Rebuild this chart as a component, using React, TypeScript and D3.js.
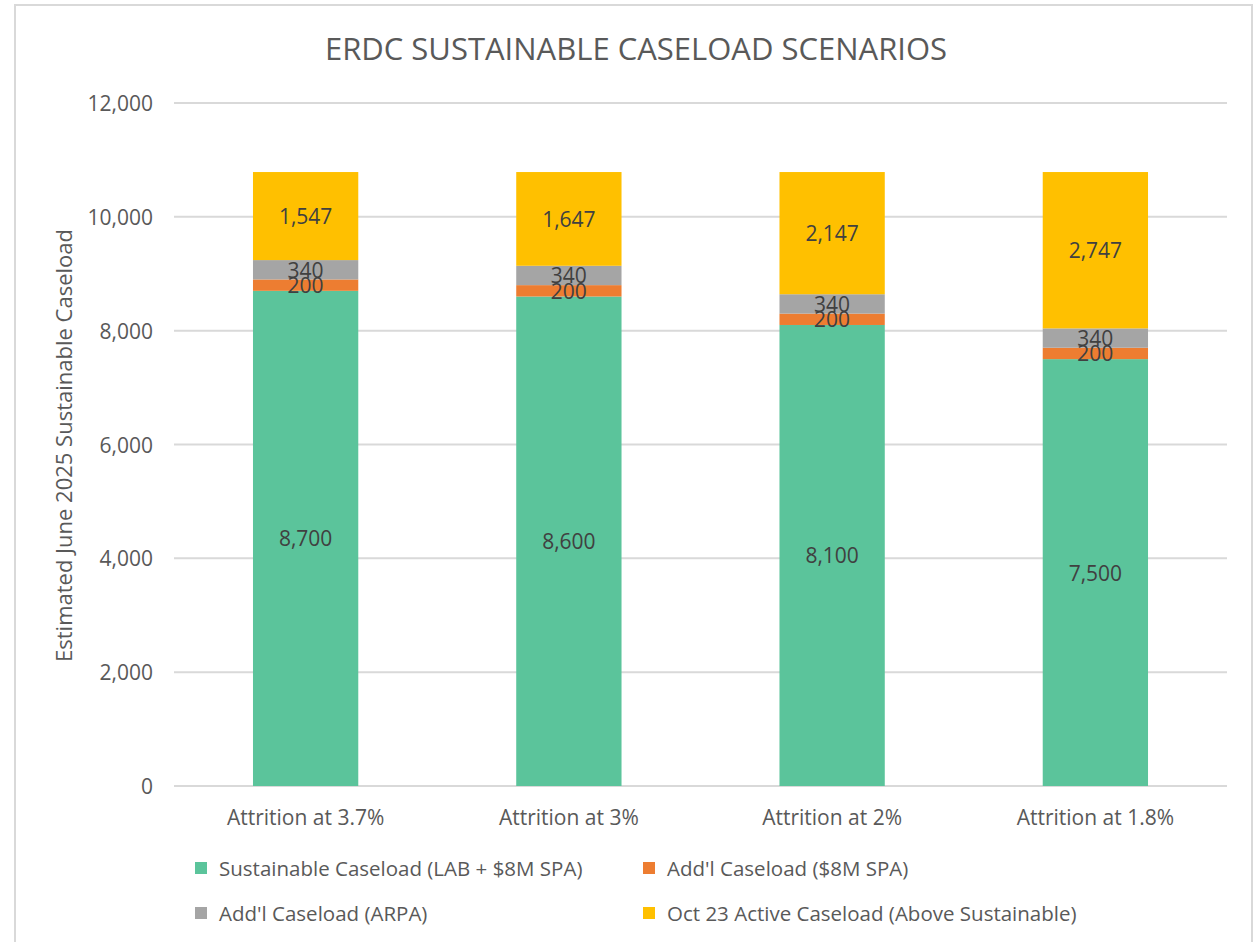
import React from "react";
import * as d3 from "d3";

// chart data
const categories = ["Attrition at 3.7%", "Attrition at 3%", "Attrition at 2%", "Attrition at 1.8%"];
const sustainable = [8700, 8600, 8100, 7500];
const addlSpa = [200, 200, 200, 200];
const addlArpa = [340, 340, 340, 340];
const aboveSustainable = [1547, 1647, 2147, 2747];
const seriesNames = [
  "Sustainable Caseload (LAB + $8M SPA)",
  "Add'l Caseload ($8M SPA)",
  "Add'l Caseload (ARPA)",
  "Oct 23 Active Caseload (Above Sustainable)",
];
const seriesColors = ["#5BC49B", "#ED7D31", "#A5A5A5", "#FFC000"];
const yTicks = [0, 2000, 4000, 6000, 8000, 10000, 12000];

const W = 1255;
const H = 942;
const FONT = "'Open Sans', sans-serif";

const App = () => {
  const left = 174;
  const right = 1227;
  const top = 103;
  const bottom = 786;

  const x = d3.scaleBand<string>()
    .domain(categories)
    .range([left, right])
    .paddingInner(0.6)
    .paddingOuter(0.3);

  const y = d3.scaleLinear().domain([0, 12000]).range([bottom, top]);

  const rows = categories.map((c, i) => ({
    cat: c,
    s0: sustainable[i],
    s1: addlSpa[i],
    s2: addlArpa[i],
    s3: aboveSustainable[i],
  }));
  const stacked = d3.stack<any>().keys(["s0", "s1", "s2", "s3"])(rows);
  const fmt = d3.format(",");

  return (
    <svg width={W} height={H} style={{ position: "absolute", left: 0, top: 0 }} fontFamily={FONT}>
      <rect x={0} y={0} width={W} height={H} fill="#fff" />
      {/* chart border */}
      <rect x={15} y={5} width={1237} height={H} fill="none" stroke="#d9d9d9" strokeWidth={2} />

      <text x={636} y={48} textAnchor="middle" dominantBaseline="central" fontSize={31} fill="#595959">
        ERDC SUSTAINABLE CASELOAD SCENARIOS
      </text>

      {/* gridlines + y ticks */}
      {yTicks.map(t => (
        <g key={t}>
          <line x1={left} x2={right} y1={y(t)} y2={y(t)} stroke="#d9d9d9" strokeWidth={2} />
          <text x={153} y={y(t)} textAnchor="end" dominantBaseline="central" fontSize={21} fill="#595959">
            {fmt(t)}
          </text>
        </g>
      ))}

      <text
        transform={`translate(63, ${(top + bottom) / 2 + 1}) rotate(-90)`}
        textAnchor="middle"
        dominantBaseline="central"
        fontSize={22}
        fill="#595959"
      >
        Estimated June 2025 Sustainable Caseload
      </text>

      {/* bars */}
      {stacked.map((layer, li) => (
        <g key={li} fill={seriesColors[li]}>
          {layer.map((d: any) => (
            <rect
              key={d.data.cat}
              x={x(d.data.cat)}
              y={y(d[1])}
              width={x.bandwidth()}
              height={y(d[0]) - y(d[1])}
            />
          ))}
        </g>
      ))}
      {stacked.map((layer, li) => (
        <g key={"l" + li}>
          {layer.map((d: any) => (
            <text
              key={d.data.cat}
              x={(x(d.data.cat) as number) + x.bandwidth() / 2}
              y={y((d[0] + d[1]) / 2)}
              textAnchor="middle"
              dominantBaseline="central"
              fontSize={21}
              fill="#404040"
            >
              {fmt(d[1] - d[0])}
            </text>
          ))}
        </g>
      ))}

      {/* x labels */}
      {categories.map(c => (
        <text
          key={c}
          x={(x(c) as number) + x.bandwidth() / 2}
          y={817}
          textAnchor="middle"
          dominantBaseline="central"
          fontSize={21}
          fill="#595959"
        >
          {c}
        </text>
      ))}

      {/* legend */}
      {seriesNames.map((n, i) => {
        const lx = i % 2 === 0 ? 195 : 643;
        const ly = i < 2 ? 868 : 913;
        return (
          <g key={n}>
            <rect x={lx} y={ly - 6} width={12} height={12} fill={seriesColors[i]} />
            <text x={lx + 24} y={ly} dominantBaseline="central" fontSize={20.5} fill="#595959">
              {n}
            </text>
          </g>
        );
      })}
    </svg>
  );
};

export default App;
